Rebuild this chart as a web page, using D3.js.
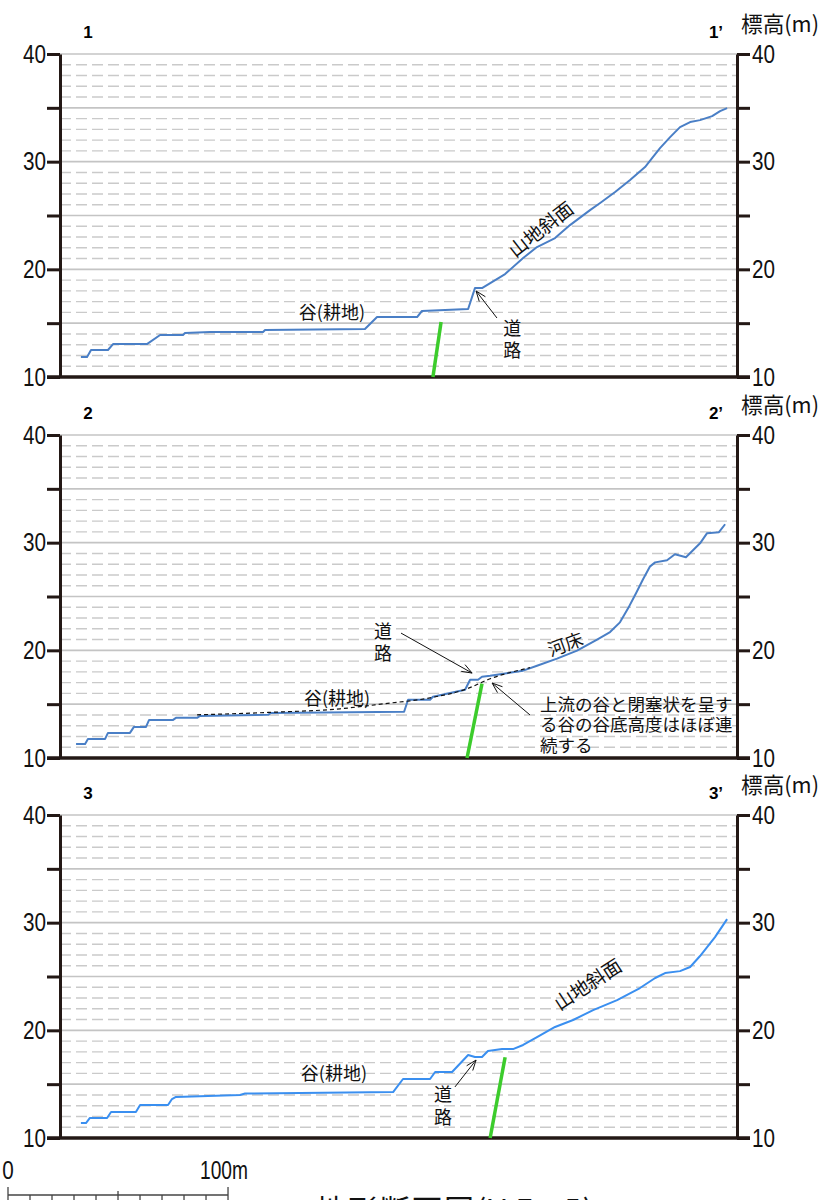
<!DOCTYPE html>
<html><head><meta charset="utf-8">
<script src="https://cdn.jsdelivr.net/npm/d3@7"></script>
<style>body{margin:0;background:#fff;overflow:hidden} svg{display:block}</style>
</head><body>
<script>
// distance along profile (m), elevation (m)
const profile1 = [[9.5,11.86],[12.3,11.86],[14.1,12.51],[21.8,12.51],[24.1,13.06],[39.5,13.06],[45.5,13.9],[55.9,13.9],[56.8,14.09],[68.2,14.18],[92.3,14.18],[93.2,14.36],[138.6,14.46],[144.1,15.57],[162.3,15.57],[164.5,16.13],[185.5,16.31],[188.6,18.26],[191.8,18.26],[202.3,19.56],[210.5,21.05],[216.8,22.07],[225,22.9],[231.8,24.11],[240.9,25.5],[245.5,26.16],[252.3,27.18],[259.1,28.29],[265.9,29.5],[269.1,30.33],[272.7,31.26],[277.3,32.28],[281.8,33.21],[286.4,33.68],[290.9,33.86],[296.4,34.23],[300,34.7],[303.2,34.98]];
const profile2 = [[7.3,11.3],[11.4,11.3],[12.7,11.77],[20.5,11.77],[21.8,12.33],[31.8,12.33],[33.6,12.89],[39.1,12.89],[40.5,13.54],[51.4,13.54],[52.7,13.73],[62.3,13.73],[63.6,13.91],[94.5,14.01],[95.9,14.19],[156.4,14.29],[158.2,15.41],[168.2,15.41],[169.5,15.69],[184.1,16.34],[186.4,17.27],[190,17.27],[191.8,17.55],[195.5,17.64],[210.5,18.11],[216.8,18.57],[225.9,19.23],[235,19.97],[244.1,21.0],[250,21.7],[254.5,22.6],[258.2,23.9],[261.8,25.3],[265,26.6],[268.2,27.8],[270.5,28.17],[275.9,28.36],[279.5,28.92],[284.5,28.64],[290.9,29.94],[294.1,30.88],[299.5,30.97],[302.3,31.71]];
const valley2 = [[62.3,14.01],[95.5,14.24],[127.3,14.57],[146.8,15.03],[168.2,15.59],[185,16.43],[195.5,17.36],[213.6,18.39]];
const profile3 = [[9.5,11.39],[11.8,11.39],[13.6,11.86],[21.4,11.86],[23.2,12.41],[34.5,12.41],[36.4,13.06],[49.1,13.06],[50.9,13.62],[52.7,13.81],[81.8,13.99],[84.1,14.13],[151.4,14.27],[155.9,15.48],[168.2,15.48],[170.5,16.13],[178.2,16.13],[185.5,17.71],[188.6,17.52],[191.8,17.52],[194.5,18.08],[200.9,18.26],[205.9,18.26],[210.5,18.64],[216.8,19.38],[225,20.31],[233.2,20.96],[242.3,21.88],[253.2,22.81],[263.6,23.93],[270.5,24.86],[275,25.32],[281.8,25.5],[286.4,25.88],[290.9,26.9],[297.7,28.66],[303.2,30.33]];
const green1 = [[169.5,10],[173.2,15.1]];
const green2 = [[185,10],[191.8,16.9]];
const green3 = [[195.5,10],[202.3,17.5]];
const yTicks = [10,15,20,25,30,35,40];
const yLabels = [10,20,30,40];
const panelNames = [["1","1’"],["2","2’"],["3","3’"]];
const yTitle = "標高(m)";
const labelValley = "谷(耕地)";
const labelSlope = "山地斜面";
const labelRoad = ["道","路"];
const labelRiver = "河床";
const noteLines = ["上流の谷と閉塞状を呈す","る谷の谷底高度はほぼ連","続する"];
const scaleTicks = [0,10,20,30,40,50,60,70,80,90,100];
const figTitle = "地形断面図(V.E.=5)";

const W=821,H=1200;
const svg=d3.select("body").append("svg").attr("width",W).attr("height",H);
const x=d3.scaleLinear().domain([0,307.7]).range([60,737]);
const panelTops=[54,435,815], panelH=323;
const numFont="'Liberation Sans Narrow','Liberation Sans',Arial,sans-serif";
const jpFont="'Noto Sans CJK JP','Noto Sans CJK SC',sans-serif";
const axisCol="#231815";

function narrow(sel,per){
  sel.each(function(){const t=d3.select(this);const s=t.text(); if(s.length) t.attr("textLength",s.length*per).attr("lengthAdjust","spacingAndGlyphs");});
}
function arrow(g,x1,y1,x2,y2){
  g.append("line").attr("x1",x1).attr("y1",y1).attr("x2",x2).attr("y2",y2).attr("stroke","#111").attr("stroke-width",1);
  const a=Math.atan2(y1-y2,x1-x2), L=11, s=0.36;
  const p=`M${x2+L*Math.cos(a+s)},${y2+L*Math.sin(a+s)}L${x2},${y2}L${x2+L*Math.cos(a-s)},${y2+L*Math.sin(a-s)}`;
  g.append("path").attr("d",p).attr("fill","none").attr("stroke","#111").attr("stroke-width",1);
}
function jtext(g,xx,yy,t,size,rot,anchor){
  const el=g.append("text").attr("x",xx).attr("y",yy).attr("font-family",jpFont).attr("font-size",size)
   .attr("text-anchor",anchor||"middle").attr("dominant-baseline","central").attr("fill","#111").text(t);
  if(rot) el.attr("transform",`rotate(${rot},${xx},${yy})`);
  return el;
}

const panels=[
 {data:profile1,color:"#4a7fc6",green:green1},
 {data:profile2,color:"#4a7fc6",green:green2},
 {data:profile3,color:"#3a8ff0",green:green3}
];

panels.forEach((p,i)=>{
  const top=panelTops[i];
  const y=d3.scaleLinear().domain([10,40]).range([top+panelH,top]);
  const g=svg.append("g");
  p.y=y; p.g=g;
  d3.range(11,41).forEach(v=>{
    const solid = v%5===0;
    g.append("line").attr("x1",x.range()[0]).attr("x2",x.range()[1]).attr("y1",y(v)).attr("y2",y(v))
     .attr("stroke",solid?"#c4c4c4":"#cacaca").attr("stroke-width",solid?1.7:1.4)
     .attr("stroke-dasharray",solid?null:"11,5");
  });
  const left=d3.axisLeft(y).tickValues(yTicks).tickSize(13).tickSizeOuter(0).tickPadding(1)
    .tickFormat(d=>yLabels.includes(d)?d:"");
  const right=d3.axisRight(y).tickValues(yTicks).tickSize(13).tickSizeOuter(0).tickPadding(2)
    .tickFormat(d=>yLabels.includes(d)?d:"");
  [[left,x.range()[0]],[right,x.range()[1]]].forEach(([ax,pos])=>{
    const a=g.append("g").attr("transform",`translate(${pos},0)`).call(ax);
    a.select(".domain").attr("stroke",axisCol).attr("stroke-width",3);
    a.selectAll(".tick line").attr("stroke",axisCol).attr("stroke-width",3);
    const tx=a.selectAll(".tick text").attr("font-family",numFont).attr("font-size",25).attr("fill","#111");
    narrow(tx,11.5);
  });
  g.append("line").attr("x1",47).attr("x2",750).attr("y1",y(10)).attr("y2",y(10))
   .attr("stroke",axisCol).attr("stroke-width",3.5);
  [[88,panelNames[i][0]],[716,panelNames[i][1]]].forEach(([px,t])=>{
    g.append("text").attr("x",px).attr("y",top-22).attr("text-anchor","middle").attr("dominant-baseline","central")
     .attr("font-family","'Liberation Sans',Arial,sans-serif").attr("font-weight","bold").attr("font-size",17).text(t);
  });
  jtext(g,741,top-32,yTitle,22,0,"start").attr("textLength",78).attr("lengthAdjust","spacingAndGlyphs");
  const line=d3.line().x(d=>x(d[0])).y(d=>y(d[1]));
  g.append("path").attr("d",line(p.green)).attr("stroke","#3ccc2c").attr("stroke-width",3.5).attr("fill","none");
  g.append("path").attr("d",line(p.data)).attr("stroke",p.color).attr("stroke-width",2)
   .attr("fill","none").attr("stroke-linejoin","round");
});

{
  const {g,y}=panels[0];
  jtext(g,x(123.6),y(16.13),labelValley,18);
  jtext(g,x(218.2),y(23.83),labelSlope,19,-38);
  jtext(g,x(205.5),y(14.64),labelRoad[0],18);
  jtext(g,x(205.5),y(12.6),labelRoad[1],18);
  arrow(g,x(198.6),y(15.48),x(189.1),y(17.99));
}
{
  const {g,y}=panels[1];
  g.append("path").attr("d",d3.line().x(d=>x(d[0])).y(d=>y(d[1])).curve(d3.curveMonotoneX)(valley2))
   .attr("stroke","#111").attr("stroke-width",1.2).attr("stroke-dasharray","4,3").attr("fill","none");
  jtext(g,x(125.9),y(15.66),labelValley,18);
  jtext(g,x(146.8),y(21.88),labelRoad[0],18);
  jtext(g,x(146.8),y(19.84),labelRoad[1],18);
  arrow(g,x(155),y(21.6),x(187.3),y(17.89));
  jtext(g,x(229.5),y(20.68),labelRiver,18,-20);
  noteLines.forEach((t,k)=>jtext(g,x(218.2),y([15.1,13.16,11.21][k]),t,17.5,0,"start"));
  arrow(g,x(213.6),y(14.0),x(196.4),y(16.96));
}
{
  const {g,y}=panels[2];
  jtext(g,x(124.5),y(16.13),labelValley,18);
  jtext(g,x(239.5),y(24.39),labelSlope,19,-33);
  jtext(g,x(174.1),y(14.18),labelRoad[0],18);
  jtext(g,x(174.1),y(12.04),labelRoad[1],18);
  arrow(g,x(179.5),y(14.74),x(189.1),y(17.24));
}

const sx=d3.scaleLinear().domain([0,100]).range([8,8+x(100)-x(0)]);
const sb=svg.append("g");
sb.append("line").attr("x1",sx(0)).attr("x2",sx(100)).attr("y1",1195).attr("y2",1195).attr("stroke","#444").attr("stroke-width",1.5);
scaleTicks.forEach(t=>{
  const y1 = (t===0||t===100)?1187:(t===50?1191:1195);
  sb.append("line").attr("x1",sx(t)).attr("x2",sx(t)).attr("y1",y1).attr("y2",1200).attr("stroke","#444").attr("stroke-width",1.3);
});
const t0=sb.append("text").attr("x",sx(0)).attr("y",1179).attr("text-anchor","middle").attr("font-family",numFont).attr("font-size",25).attr("fill","#111").text("0");
narrow(t0,11.5);
const t1=sb.append("text").attr("x",sx(100)-28).attr("y",1179).attr("text-anchor","start").attr("font-family",numFont).attr("font-size",25).attr("fill","#111").text("100m");
t1.attr("textLength",48).attr("lengthAdjust","spacingAndGlyphs");
svg.append("text").attr("x",316).attr("y",1221).attr("font-family",jpFont).attr("font-size",30).attr("letter-spacing",2).attr("fill","#111").text(figTitle);
</script>
</body></html>
